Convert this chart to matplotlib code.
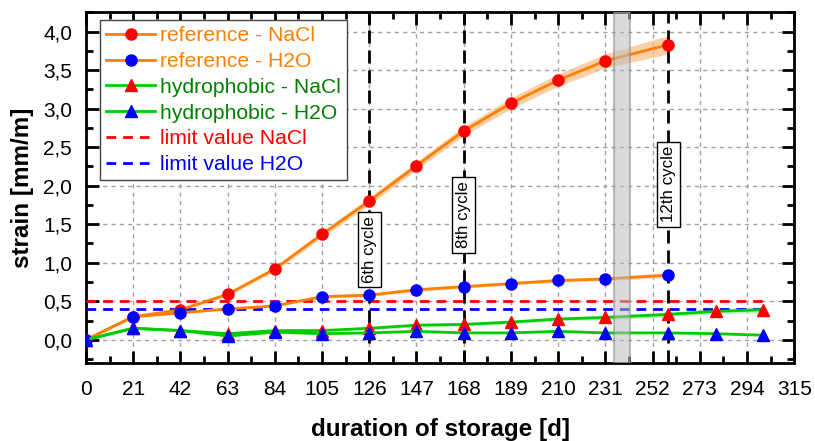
# strain over storage duration - reference vs hydrophobic
import numpy as np
import matplotlib.pyplot as plt

plt.rcParams['font.family'] = ['Liberation Sans', 'DejaVu Sans']

# days of storage
days_ref = [0, 21, 42, 63, 84, 105, 126, 147, 168, 189, 210, 231, 259]
days_hyd = [0, 21, 42, 63, 84, 105, 126, 147, 168, 189, 210, 231, 259, 280, 301]

# strain values [mm/m]
ref_nacl = [0.0, 0.30, 0.39, 0.59, 0.92, 1.37, 1.80, 2.26, 2.71, 3.07, 3.37, 3.62, 3.83]
ref_nacl_err = [0.0, 0.01, 0.02, 0.02, 0.03, 0.04, 0.05, 0.05, 0.06, 0.07, 0.08, 0.09, 0.12]
ref_h2o = [0.0, 0.30, 0.35, 0.40, 0.44, 0.56, 0.58, 0.65, 0.69, 0.73, 0.77, 0.79, 0.84]
ref_h2o_err = [0.0, 0.01, 0.01, 0.01, 0.01, 0.02, 0.02, 0.02, 0.02, 0.02, 0.02, 0.02, 0.03]
hyd_nacl = [0.0, 0.15, 0.12, 0.08, 0.12, 0.12, 0.15, 0.19, 0.20, 0.23, 0.27, 0.29, 0.33, 0.37, 0.39]
hyd_nacl_err = [0.0, 0.01, 0.01, 0.01, 0.01, 0.01, 0.02, 0.02, 0.02, 0.02, 0.02, 0.03, 0.03, 0.03, 0.04]
hyd_h2o = [0.0, 0.15, 0.12, 0.05, 0.10, 0.08, 0.09, 0.11, 0.09, 0.09, 0.11, 0.09, 0.09, 0.08, 0.06]
hyd_h2o_err = [0.0, 0.01, 0.01, 0.01, 0.01, 0.01, 0.01, 0.01, 0.01, 0.01, 0.01, 0.01, 0.01, 0.01, 0.01]

# limit values
limit_nacl = 0.5
limit_h2o = 0.4
limit_end = 301

# cycle markers
cycle_days = [126, 168, 259]
cycle_labels = ["6th cycle", "8th cycle", "12th cycle"]
cycle_text_y = [1.17, 1.62, 2.02]

# gray band
band_start = 235
band_end = 242

xtick_vals = list(range(0, 316, 21))
ytick_vals = [0.0, 0.5, 1.0, 1.5, 2.0, 2.5, 3.0, 3.5, 4.0]
ytick_labels = ["0,0", "0,5", "1,0", "1,5", "2,0", "2,5", "3,0", "3,5", "4,0"]

orange = "#ff7f00"
green = "#00cc00"

fig = plt.figure(figsize=(8.15, 4.41), dpi=100)
ax = fig.add_axes([0.1055, 0.177, 0.869, 0.796])

# shaded bands
ax.fill_between(days_ref, np.array(ref_nacl) - ref_nacl_err, np.array(ref_nacl) + ref_nacl_err,
                color="#fbbf8a", alpha=0.75, lw=0, zorder=2)
ax.fill_between(days_ref, np.array(ref_h2o) - ref_h2o_err, np.array(ref_h2o) + ref_h2o_err,
                color="#fbbf8a", alpha=0.75, lw=0, zorder=2)
ax.fill_between(days_hyd, np.array(hyd_nacl) - hyd_nacl_err, np.array(hyd_nacl) + hyd_nacl_err,
                color="#a6eea6", alpha=0.75, lw=0, zorder=2)
ax.fill_between(days_hyd, np.array(hyd_h2o) - hyd_h2o_err, np.array(hyd_h2o) + hyd_h2o_err,
                color="#a6eea6", alpha=0.75, lw=0, zorder=2)

# limit lines
lim1, = ax.plot([0, limit_end], [limit_nacl, limit_nacl], color="red", lw=2, dashes=(3.5, 2.5),
                label="limit value NaCl", zorder=3)
lim2, = ax.plot([0, limit_end], [limit_h2o, limit_h2o], color="blue", lw=2, dashes=(3.5, 2.5),
                label="limit value H2O", zorder=3)

# cycle lines
for d in cycle_days:
    ax.axvline(d, color="black", lw=2, dashes=(4.7, 2.5), zorder=3)

# data
l1, = ax.plot(days_ref, ref_nacl, color=orange, lw=2, marker="o", ms=8, mfc="red", mec="red",
              label="reference - NaCl", zorder=5)
l2, = ax.plot(days_ref, ref_h2o, color=orange, lw=2, marker="o", ms=8, mfc="blue", mec="blue",
              label="reference - H2O", zorder=5)
l3, = ax.plot(days_hyd, hyd_nacl, color=green, lw=2, marker="^", ms=9, mfc="red", mec="red",
              label="hydrophobic - NaCl", zorder=5)
l4, = ax.plot(days_hyd, hyd_h2o, color=green, lw=2, marker="^", ms=9, mfc="blue", mec="blue",
              label="hydrophobic - H2O", zorder=5)

# gray band on top
ax.axvspan(band_start, band_end, facecolor="#bdbdbd", alpha=0.55, edgecolor="#8c8c8c", lw=1.5, zorder=6)

# cycle labels
for d, lab, ty in zip(cycle_days, cycle_labels, cycle_text_y):
    ax.text(d, ty, lab, rotation=90, ha="center", va="center", fontsize=12.2, zorder=7,
            bbox=dict(boxstyle="square,pad=0.25", fc="white", ec="black", lw=1))

ax.set_xlim(0, 315)
ax.set_ylim(-0.3, 4.255)
ax.set_xticks(xtick_vals)
ax.set_xticks(np.arange(10.5, 315, 21), minor=True)
ax.set_yticks(ytick_vals)
ax.set_yticklabels(ytick_labels)
ax.set_yticks(np.arange(-0.25, 4.26, 0.5), minor=True)

ax.grid(True, which="major", color="#a0a0a0", lw=1, dashes=(3, 3))
ax.set_axisbelow(True)

ax.tick_params(which="both", direction="in", top=True, right=True, width=2, labelsize=15)
ax.tick_params(which="major", length=9)
ax.tick_params(which="minor", length=5)
ax.tick_params(axis="x", pad=12)
ax.tick_params(axis="y", pad=10)
for s in ax.spines.values():
    s.set_linewidth(2)

ax.set_xlabel("duration of storage [d]", fontsize=17.5, fontweight="bold", labelpad=14)
ax.set_ylabel("strain [mm/m]", fontsize=17.5, fontweight="bold", labelpad=6.5)

leg = ax.legend(handles=[l1, l2, l3, l4, lim1, lim2], loc="upper left",
                bbox_to_anchor=(0.0198, 0.977), fontsize=15.2, frameon=True, fancybox=False,
                edgecolor="#444444", framealpha=1, handlelength=2.3, handletextpad=0.25,
                labelspacing=0.32, borderpad=0.3, borderaxespad=0)
leg.get_frame().set_linewidth(1)
leg.set_zorder(10)
text_colors = [orange, orange, "#008000", "#008000", "red", "blue"]
for t, c in zip(leg.get_texts(), text_colors):
    t.set_color(c)

fig.savefig("out.png", dpi=100)
